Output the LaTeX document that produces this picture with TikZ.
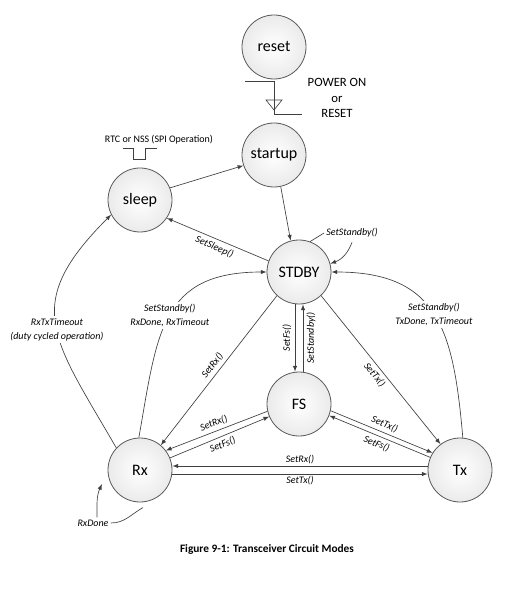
\documentclass[tikz,border=0pt]{standalone}
\usepackage{fontspec}
\setmainfont{Carlito}
\usetikzlibrary{positioning}

\begin{document}
\begin{tikzpicture}[x=0.75pt, y=-0.75pt,
	state/.style={circle, draw=black!65, line width=0.6pt, minimum size=48pt,
		inner sep=0pt, inner color=white, outer color=black!8,
		font=\fontsize{12}{14}\selectfont},
	trans/.style={-latex, draw=black!75, line width=0.5pt},
	back/.style={latex-, draw=black!75, line width=0.5pt},
	line/.style={draw=black!75, line width=0.5pt},
	lbl/.style={font=\itshape\fontsize{7.5}{10.5}\selectfont, inner sep=1.5pt},
	slbl/.style={lbl, sloped, inner sep=2.5pt}]
	\useasboundingbox (0,0) rectangle (527,591);
	
	%% states
	\node[state] (reset) at (274,47) {reset};
	\node[state] (startup) at (274,155) {startup};
	\node[state] (sleep) at (140,200) {sleep};
	\node[state] (STDBY) at (299,272) {STDBY};
	\node[state] (FS) at (299,404) {FS};
	\node[state] (Rx) at (140,470) {Rx};
	\node[state] (Tx) at (460,470) {Tx};
	
	%% power on / reset
	\draw[line] (245,81) -| (274,114) -- (302,114);
	\draw[line] (266,100) -- (282,100) -- (274,110) -- cycle;
	\node[align=center, font=\fontsize{9.5}{11.5}\selectfont] (por) at (337,98)
	{POWER ON\\or\\RESET};
	
	%% wake-up pulse
	\node[font=\fontsize{7.5}{9}\selectfont, inner sep=1pt] (rtc) at (159,140)
	{RTC or NSS (SPI Operation)};
	\draw[line] (123,148) -- (133,148) -- (133,159) -- (145,159) -- (145,148) -- (157,148);
	
	%% sleep, startup
	\draw[trans] (sleep.22) -- (startup.199);
	\draw[trans] (startup.-78) -- (STDBY.105);
	\draw[back] (sleep.-34) -- (STDBY.160)
	node [slbl, midway, below] {SetSleep()};
	
	%% STDBY self
	\node[lbl] (sbl) at (352,233) {SetStandby()};
	\draw[line] (STDBY.70) -- (sbl.west);
	\draw[trans] ([yshift=-2pt]sbl.south) to[bend left=25] (STDBY.15);
	
	%% STDBY <-> FS
	\draw[back] ([xshift=-3pt]FS.north) -- ([xshift=-3pt]STDBY.south)
	node [slbl, midway, above] {SetFs()};
	\draw[trans] ([xshift=3pt]FS.north) -- ([xshift=3pt]STDBY.south)
	node [slbl, midway, below] {SetStandby()};
	
	%% STDBY -> Rx, Tx
	\draw[back] (Rx.50) -- (STDBY.-133)
	node [slbl, midway, above] {SetRx()};
	\draw[trans] (STDBY.-47) -- (Tx.127)
	node [slbl, midway, below] {SetTx()};
	
	%% Rx, Tx -> STDBY
	\draw[trans] (Rx.92) to[out=80, in=180, looseness=1.3]
	node [lbl, pos=0.5, fill=white, align=center] {SetStandby()\\RxDone, RxTimeout}
	(STDBY.west);
	\draw[trans] (Tx.85) to[out=95, in=0, looseness=1.3]
	node [lbl, pos=0.5, fill=white, align=center] {SetStandby()\\TxDone, TxTimeout}
	(STDBY.east);
	
	%% Rx -> sleep
	\draw[trans] (Rx.137) to[out=120, in=225, looseness=1.4]
	node [lbl, pos=0.47, fill=white, align=center] {RxTxTimeout\\(duty cycled operation)}
	(sleep.207);
	
	%% Rx <-> FS
	\draw[back] (Rx.37) -- (FS.193)
	node [slbl, midway, above] {SetRx()};
	\draw[trans] (Rx.22) -- (FS.203)
	node [slbl, midway, below] {SetFs()};
	
	%% FS <-> Tx
	\draw[trans] (FS.-12) -- (Tx.148)
	node [slbl, midway, above] {SetTx()};
	\draw[back] (FS.-21) -- (Tx.157)
	node [slbl, midway, below] {SetFs()};
	
	%% Rx <-> Tx
	\draw[back] ([yshift=3pt]Rx.east) -- ([yshift=3pt]Tx.west)
	node [lbl, midway, above] {SetRx()};
	\draw[trans] ([yshift=-3pt]Rx.east) -- ([yshift=-3pt]Tx.west)
	node [lbl, midway, below] {SetTx()};
	
	%% Rx self
	\node[lbl] (rxd) at (93,523) {RxDone};
	\coordinate (rxloop) at (102,484);
	\draw[line] ([yshift=-4pt]Rx.-85) to[out=210, in=0] (rxd.east);
	\draw[trans] ([xshift=3pt]rxd.north) to[out=90, in=245] (rxloop);
	
	%% caption
	\node[font=\bfseries\fontsize{8.5}{10}\selectfont] (cap) at (267,549)
	{Figure 9-1: Transceiver Circuit Modes};
\end{tikzpicture}
\end{document}
